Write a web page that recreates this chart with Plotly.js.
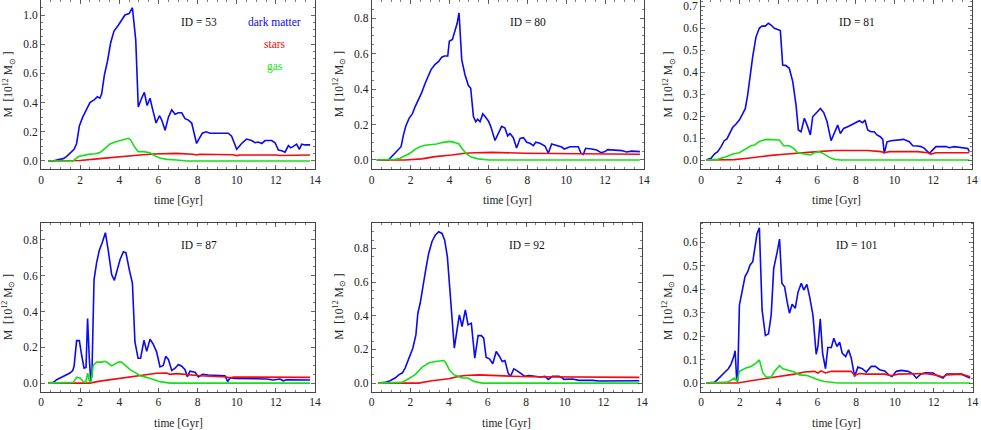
<!DOCTYPE html>
<html><head><meta charset="utf-8">
<script src="https://cdn.plot.ly/plotly-3.0.1.min.js"></script>
<style>html,body{margin:0;padding:0;background:#fff}#plot{width:981px;height:430px}</style>
</head><body><div id="plot"></div>
<script>
// ---------- data (time in Gyr, mass in 10^12 Msun) ----------
const panelIds = ["53", "80", "81", "87", "92", "101"];
const seriesNames = ["dark matter", "stars", "gas"];

const t53_dm = [0.37,0.63,0.89,1.14,1.3,1.45,1.57,1.69,1.82,1.96,2.13,2.3,2.5,2.73,2.88,3.01,3.1,3.24,3.39,3.56,3.73,3.95,4.16,4.29,4.5,4.58,4.67,4.84,4.97,5.14,5.28,5.42,5.57,5.71,5.88,6.05,6.17,6.34,6.51,6.68,6.85,7.02,7.19,7.36,7.53,7.7,7.82,7.95,8.09,8.24,8.43,8.64,8.98,9.32,9.57,9.74,10.0,10.25,10.5,10.76,10.94,11.1,11.28,11.45,11.79,11.96,12.13,12.3,12.47,12.64,12.76,12.89,13.06,13.2,13.32,13.49,13.75];
const m53_dm = [0,0,0.01,0.016,0.03,0.05,0.07,0.08,0.12,0.24,0.30,0.35,0.40,0.42,0.44,0.43,0.46,0.59,0.68,0.81,0.89,0.93,0.97,1.00,1.01,1.03,1.05,0.83,0.37,0.43,0.47,0.38,0.43,0.35,0.26,0.31,0.28,0.21,0.30,0.35,0.32,0.33,0.33,0.29,0.28,0.26,0.20,0.12,0.155,0.19,0.20,0.19,0.19,0.19,0.19,0.17,0.08,0.12,0.15,0.14,0.125,0.13,0.12,0.14,0.14,0.125,0.075,0.07,0.06,0.105,0.09,0.10,0.115,0.08,0.115,0.11,0.11];
const t53_st = [0.37,1.3,2.0,3.0,4.0,5.06,5.74,6.4,6.93,7.78,7.95,8.1,9.8,10.0,10.17,12.04,12.2,13.75];
const m53_st = [0,0,0.003,0.016,0.03,0.041,0.048,0.052,0.052,0.046,0.041,0.046,0.043,0.037,0.041,0.041,0.037,0.041];
const t53_gas = [0.37,1.65,1.91,2.16,2.42,2.76,3.01,3.27,3.53,3.78,4.04,4.29,4.46,4.58,4.77,4.97,5.23,5.57,5.74,6.08,6.42,6.93,7.44,13.75];
const m53_gas = [0,0,0.03,0.04,0.045,0.05,0.057,0.087,0.117,0.13,0.14,0.148,0.155,0.144,0.098,0.064,0.064,0.057,0.04,0.02,0.011,0.007,0,0];

const t80_dm = [0.26,0.86,1.03,1.2,1.34,1.51,1.63,1.75,1.92,2.09,2.23,2.4,2.57,2.74,2.91,3.05,3.26,3.43,3.6,3.74,3.91,3.99,4.15,4.28,4.39,4.49,4.63,4.8,4.97,5.09,5.23,5.35,5.45,5.57,5.71,5.83,6.0,6.12,6.34,6.51,6.68,6.85,6.99,7.11,7.28,7.45,7.63,7.8,7.97,8.14,8.31,8.43,8.65,8.91,9.08,9.25,9.51,9.77,9.9,10.2,10.62,10.76,10.88,11.0,11.31,11.57,11.79,12.0,12.13,12.5,12.85,13.1,13.37,13.79];
const m80_dm = [0,0,0.02,0.04,0.06,0.075,0.14,0.19,0.235,0.26,0.30,0.34,0.38,0.43,0.47,0.51,0.54,0.555,0.58,0.587,0.587,0.67,0.68,0.73,0.77,0.83,0.565,0.48,0.42,0.405,0.245,0.216,0.23,0.216,0.26,0.245,0.22,0.19,0.11,0.15,0.19,0.18,0.135,0.15,0.126,0.068,0.122,0.126,0.10,0.094,0.081,0.10,0.094,0.079,0.038,0.09,0.083,0.073,0.062,0.075,0.075,0.038,0.032,0.066,0.062,0.056,0.041,0.047,0.058,0.056,0.053,0.045,0.05,0.047];
const t80_st = [0.26,1.71,2.57,3.26,4.11,4.8,5.31,6.17,7.88,9.6,11.31,13.79];
const m80_st = [0,0,0.006,0.019,0.028,0.038,0.041,0.043,0.038,0.036,0.034,0.032];
const t80_gas = [0.26,1.2,1.46,1.71,1.97,2.23,2.48,2.74,3.0,3.34,3.6,3.86,4.03,4.28,4.49,4.63,4.88,5.14,5.48,6.0,13.79];
const m80_gas = [0,0.004,0.01,0.026,0.038,0.06,0.075,0.083,0.085,0.09,0.098,0.1,0.105,0.098,0.09,0.066,0.034,0.015,0.006,0,0];

const t81_dm = [0.26,0.52,0.69,0.86,1.03,1.2,1.34,1.52,1.64,1.81,1.98,2.15,2.29,2.41,2.53,2.67,2.84,3.01,3.15,3.32,3.48,3.62,3.79,3.96,4.1,4.22,4.39,4.56,4.74,4.91,5.03,5.17,5.34,5.51,5.65,5.77,5.94,6.17,6.34,6.51,6.72,6.89,7.06,7.2,7.37,7.66,7.92,8.18,8.35,8.47,8.61,8.78,8.95,9.09,9.26,9.39,9.47,9.61,9.82,10.16,10.47,10.76,10.94,11.19,11.37,11.54,11.8,11.97,12.14,12.66,12.83,13.09,13.43,13.78,13.86];
const m81_dm = [0,0.008,0.027,0.038,0.06,0.088,0.096,0.13,0.149,0.164,0.182,0.21,0.235,0.296,0.387,0.47,0.56,0.60,0.61,0.61,0.623,0.615,0.60,0.595,0.59,0.433,0.43,0.418,0.357,0.25,0.137,0.129,0.19,0.152,0.114,0.197,0.213,0.235,0.216,0.175,0.088,0.121,0.159,0.121,0.144,0.155,0.167,0.179,0.17,0.182,0.137,0.129,0.129,0.114,0.106,0.094,0.03,0.083,0.088,0.091,0.094,0.083,0.065,0.064,0.061,0.053,0.03,0.046,0.061,0.061,0.056,0.061,0.056,0.053,0.038];
const t81_st = [0.26,1.72,2.41,2.93,3.62,4.3,5.17,6.03,6.89,8.61,9.3,9.47,9.73,11.19,11.71,11.88,12.14,13.86];
const m81_st = [0,0.0015,0.008,0.015,0.021,0.026,0.033,0.038,0.043,0.043,0.038,0.033,0.038,0.038,0.033,0.027,0.033,0.033];
const t81_gas = [0.26,0.86,1.29,1.64,1.98,2.32,2.58,2.76,3.01,3.36,3.7,4.05,4.27,4.56,4.79,5.0,5.34,5.65,5.86,6.11,6.37,6.63,6.89,7.23,13.86];
const m81_gas = [0,0.003,0.015,0.027,0.033,0.049,0.065,0.068,0.084,0.094,0.091,0.091,0.065,0.065,0.053,0.033,0.027,0.023,0.033,0.038,0.027,0.012,0.003,0,0];

const t87_dm = [0.37,0.63,0.8,1.06,1.31,1.48,1.62,1.69,1.82,1.96,2.08,2.2,2.3,2.38,2.47,2.54,2.6,2.71,2.84,2.98,3.13,3.29,3.44,3.61,3.75,3.9,4.04,4.21,4.34,4.51,4.67,4.8,4.96,5.09,5.26,5.4,5.57,5.74,5.91,6.08,6.25,6.37,6.51,6.68,6.85,7.02,7.19,7.36,7.48,7.61,7.87,8.04,8.26,8.55,8.98,9.4,9.54,9.66,9.91,10.68,11.53,11.87,12.21,12.38,12.55,13.75];
const m87_dm = [0,0.004,0.019,0.034,0.045,0.056,0.07,0.094,0.237,0.237,0.154,0.083,0.087,0.36,0.135,0.013,0.041,0.578,0.672,0.742,0.785,0.84,0.738,0.606,0.574,0.634,0.69,0.734,0.728,0.634,0.559,0.23,0.139,0.139,0.239,0.177,0.245,0.216,0.173,0.09,0.098,0.149,0.132,0.07,0.083,0.104,0.094,0.075,0.036,0.066,0.06,0.034,0.049,0.045,0.041,0.041,0.008,0.03,0.026,0.024,0.023,0.017,0.023,0.013,0.019,0.017];
const t87_st = [0.37,2.5,3.01,3.87,4.72,5.4,5.91,6.42,6.59,6.93,7.27,8.12,9.49,9.66,9.83,13.75];
const m87_st = [0,0,0.011,0.023,0.038,0.047,0.055,0.056,0.049,0.053,0.049,0.041,0.034,0.028,0.034,0.032];
const t87_gas = [0.37,1.65,1.82,1.99,2.16,2.28,2.38,2.47,2.55,2.67,2.84,3.1,3.27,3.39,3.61,3.73,3.95,4.12,4.29,4.55,4.8,5.06,5.4,5.74,6.08,6.59,13.75];
const m87_gas = [0,0.004,0.032,0.028,0.008,0.004,0.056,0.013,0.004,0.098,0.117,0.117,0.122,0.115,0.096,0.102,0.117,0.117,0.102,0.075,0.06,0.041,0.032,0.019,0.008,0,0];

const t92_dm = [0.35,0.69,0.95,1.21,1.42,1.59,1.73,1.87,1.99,2.13,2.29,2.39,2.51,2.65,2.81,2.95,3.12,3.29,3.47,3.64,3.78,3.92,4.04,4.16,4.28,4.42,4.54,4.68,4.85,4.99,5.16,5.34,5.51,5.68,5.8,5.93,6.1,6.27,6.45,6.62,6.76,6.9,7.07,7.19,7.36,7.54,7.71,7.94,8.14,8.49,8.75,8.98,9.15,9.36,9.7,9.88,9.96,10.4,10.74,11.44,11.78,13.86];
const m92_dm = [0,0.004,0.014,0.03,0.05,0.061,0.089,0.132,0.158,0.207,0.286,0.415,0.474,0.583,0.681,0.77,0.84,0.879,0.899,0.889,0.849,0.75,0.573,0.425,0.207,0.316,0.405,0.336,0.435,0.346,0.356,0.148,0.282,0.282,0.267,0.152,0.144,0.115,0.188,0.158,0.128,0.134,0.059,0.04,0.085,0.073,0.059,0.04,0.045,0.041,0.036,0.04,0.022,0.04,0.04,0.03,0.022,0.024,0.016,0.016,0.012,0.014];
const t92_st = [0.35,2.43,3.12,3.99,4.51,4.85,5.55,6.24,7.28,8.32,9.7,11.44,13.86];
const m92_st = [0,0,0.014,0.026,0.04,0.045,0.049,0.045,0.041,0.038,0.036,0.034,0.034];
const t92_gas = [0.35,1.56,1.91,2.25,2.6,2.95,3.29,3.55,3.73,3.85,4.02,4.25,4.51,4.68,4.99,5.29,5.72,13.86];
const m92_gas = [0,0.004,0.026,0.05,0.093,0.119,0.128,0.134,0.134,0.119,0.079,0.05,0.036,0.03,0.03,0.01,0,0];

const t101_dm = [0.26,0.69,0.86,1.07,1.24,1.41,1.55,1.69,1.76,1.84,1.89,1.98,2.15,2.27,2.41,2.53,2.67,2.79,2.89,3.01,3.15,3.32,3.48,3.62,3.75,3.93,4.05,4.17,4.31,4.44,4.56,4.7,4.86,5.0,5.17,5.3,5.46,5.6,5.77,5.94,6.03,6.15,6.27,6.42,6.54,6.72,6.85,7.01,7.15,7.28,7.46,7.61,7.75,7.92,8.09,8.32,8.52,8.78,8.99,9.21,9.47,9.68,9.85,10.07,10.33,10.68,10.94,11.11,11.33,11.57,11.97,12.14,12.48,12.66,12.92,13.43,13.69,13.88];
const m101_dm = [0,0.003,0.016,0.031,0.047,0.061,0.081,0.113,0.138,0.014,0.007,0.333,0.397,0.454,0.475,0.504,0.518,0.589,0.638,0.662,0.312,0.203,0.21,0.291,0.489,0.56,0.614,0.426,0.411,0.348,0.298,0.336,0.319,0.387,0.426,0.397,0.421,0.369,0.291,0.123,0.156,0.274,0.128,0.061,0.152,0.152,0.191,0.156,0.174,0.128,0.113,0.142,0.106,0.028,0.068,0.061,0.047,0.071,0.071,0.057,0.052,0.035,0.028,0.05,0.054,0.05,0.038,0.021,0.038,0.044,0.043,0.033,0.021,0.038,0.038,0.038,0.028,0.021];
const t101_st = [0.26,1.89,2.58,3.27,4.13,4.82,5.34,5.86,6.03,6.2,6.41,6.72,7.75,7.92,8.18,8.52,9.47,9.82,10.16,11.19,11.57,12.06,12.48,12.66,13.43,13.88];
const m101_st = [0,0,0.01,0.018,0.027,0.038,0.047,0.05,0.043,0.052,0.043,0.05,0.05,0.033,0.041,0.038,0.038,0.031,0.038,0.038,0.041,0.035,0.026,0.035,0.038,0.027];
const t101_gas = [0.26,1.38,1.72,1.86,1.98,2.32,2.58,2.84,3.01,3.19,3.36,3.62,3.79,4.05,4.22,4.56,4.82,5.08,5.42,5.68,6.03,6.37,7.06,13.88];
const m101_gas = [0,0.004,0.021,0.007,0.05,0.064,0.071,0.085,0.099,0.043,0.026,0.026,0.05,0.074,0.061,0.052,0.047,0.035,0.033,0.026,0.014,0.007,0,0];

const xTickVals = [0, 2, 4, 6, 8, 10, 12, 14];

// ---------- assembly ----------
const panelData = [
  [[t53_dm, m53_dm], [t53_st, m53_st], [t53_gas, m53_gas]],
  [[t80_dm, m80_dm], [t80_st, m80_st], [t80_gas, m80_gas]],
  [[t81_dm, m81_dm], [t81_st, m81_st], [t81_gas, m81_gas]],
  [[t87_dm, m87_dm], [t87_st, m87_st], [t87_gas, m87_gas]],
  [[t92_dm, m92_dm], [t92_st, m92_st], [t92_gas, m92_gas]],
  [[t101_dm, m101_dm], [t101_st, m101_st], [t101_gas, m101_gas]]
];
const colors = ["rgb(10,10,245)", "rgb(245,10,10)", "rgb(20,225,20)"];
const FONT = "Liberation Serif, Times New Roman, serif";
const W = 981, H = 430;

// pixel geometry of frames [left, right, top, bottom]
const frames = [
  [41, 315, 0, 169], [371.7, 644, 0, 169], [701, 972, 0, 169],
  [41, 315, 222.5, 391.5], [371.7, 642, 222.5, 391.5], [701, 972.5, 222.5, 391.5]
];
const yRanges = [[-0.055, 1.103], [-0.051, 0.903], [-0.041, 0.729], [-0.047, 0.897], [-0.05, 0.954], [-0.036, 0.685]];
const yDticks = [0.2, 0.2, 0.1, 0.2, 0.2, 0.1];
const yMinor = [0.05, 0.05, 0.02, 0.05, 0.05, 0.02];

const traces = [];
const layout = {
  width: W, height: H, margin: {l: 0, r: 0, t: 0, b: 0},
  paper_bgcolor: "#fff", plot_bgcolor: "#fff", showlegend: false,
  font: {family: FONT, size: 11.5, color: "#222"},
  annotations: []
};

panelData.forEach((series, i) => {
  const n = i + 1;
  const xa = n === 1 ? "x" : "x" + n, ya = n === 1 ? "y" : "y" + n;
  series.forEach((s, k) => {
    traces.push({x: s[0], y: s[1], type: "scatter", mode: "lines", name: seriesNames[k],
      xaxis: xa, yaxis: ya, line: {color: colors[k], width: 1.6}, hoverinfo: "skip"});
  });
  const f = frames[i];
  const common = {showgrid: false, zeroline: false, showline: true, linecolor: "#444", linewidth: 1,
    mirror: "allticks", ticks: "inside", ticklen: 4, tickcolor: "#444", tickwidth: 0.8,
    tickfont: {family: FONT, size: 11.5, color: "#222"}};
  layout["xaxis" + (n === 1 ? "" : n)] = Object.assign({}, common, {
    domain: [f[0] / W, f[1] / W], anchor: ya, range: [0, 14],
    tickvals: xTickVals, ticktext: xTickVals.map(String),
    minor: {dtick: 0.5, tick0: 0, ticks: "inside", ticklen: 2, tickcolor: "#444", tickwidth: 0.7}
  });
  layout["yaxis" + (n === 1 ? "" : n)] = Object.assign({}, common, {
    domain: [1 - f[3] / H, 1 - f[2] / H], anchor: xa, range: yRanges[i],
    dtick: yDticks[i], tick0: 0, tickformat: ".1f",
    minor: {dtick: yMinor[i], tick0: 0, ticks: "inside", ticklen: 2, tickcolor: "#444", tickwidth: 0.7}
  });
  // ID label
  layout.annotations.push({text: "ID = " + panelIds[i], xref: xa + " domain", yref: ya + " domain",
    x: 0.575, y: 1 - 22 / (f[3] - f[2]), xanchor: "center", yanchor: "middle", showarrow: false,
    font: {family: FONT, size: 11.5, color: "#111"}});
  // x title
  layout.annotations.push({text: "time [Gyr]", xref: xa + " domain", yref: "paper",
    x: 0.5, y: 1 - (f[3] + 31.5) / H, xanchor: "center", yanchor: "middle", showarrow: false,
    font: {family: FONT, size: 11.5, color: "#222"}});
  // y title
  layout.annotations.push({text: "M  [10<sup>12</sup> M<sub>\u2299</sub> ]", xref: "paper", yref: ya + " domain",
    x: (f[0] - 33) / W, y: 0.5, xanchor: "center", yanchor: "middle", textangle: -90, showarrow: false,
    font: {family: FONT, size: 11.5, color: "#222"}});
});

// legend text in first panel
const legendY = [22.3, 44, 66.7];
seriesNames.forEach((nm, k) => {
  layout.annotations.push({text: nm, xref: "x domain", yref: "y domain", x: 0.854, y: 1 - legendY[k] / 169,
    xanchor: "center", yanchor: "middle", showarrow: false,
    font: {family: FONT, size: 11.5, color: colors[k]}});
});

Plotly.newPlot("plot", traces, layout, {staticPlot: true, displayModeBar: false});
</script>
</body></html>
